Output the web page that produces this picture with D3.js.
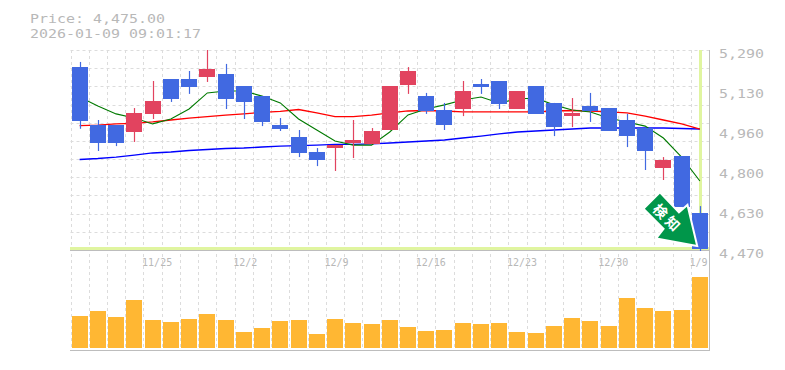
<!DOCTYPE html>
<html><head><meta charset="utf-8">
<script src="https://d3js.org/d3.v7.min.js"></script>
<style>html,body{margin:0;padding:0;background:#fff}svg{display:block}text{font-family:"DejaVu Sans Mono",monospace}</style>
</head><body><div id="chart"></div>
<script>
const dates=["11/18","11/19","11/20","11/21","11/25","11/26","11/27","11/28","12/1","12/2","12/3","12/4","12/5","12/8","12/9","12/10","12/11","12/12","12/15","12/16","12/17","12/18","12/19","12/22","12/23","12/24","12/25","12/26","12/29","12/30","1/5","1/6","1/7","1/8","1/9"];
const tickDates=["11/25","12/2","12/9","12/16","12/23","12/30","1/9"];
const priceTicks=[5290,5130,4960,4800,4630,4470];
const opens=[5220,4982,4982,4954,5028,5171,5171,5179,5192,5142,5101,4982,4933,4872,4888,4907,4905,4962,5146,5101,5044,5048,5151,5163,5048,5142,5073,5019,5060,5052,5003,4970,4806,4855,4622];
const closes=[5000,4909,4909,5032,5081,5089,5138,5212,5089,5077,4995,4966,4868,4839,4900,4921,4958,5142,5204,5040,4982,5122,5138,5069,5122,5028,4974,5032,5040,4958,4937,4876,4839,4646,4475];
const highs=[5241,5003,4982,5052,5163,5171,5204,5290,5233,5142,5101,5011,4962,4888,4900,5003,4970,5142,5220,5114,5073,5163,5171,5163,5122,5142,5073,5093,5114,5052,5028,4970,4851,4855,4650];
const lows=[4967,4876,4896,4913,5007,5077,5110,5159,5048,5007,4978,4958,4851,4814,4794,4847,4905,4962,5110,5028,4962,5019,5110,5048,5048,5028,4937,4974,4995,4958,4892,4798,4757,4646,4466];
const maShort=[5097,5060,5028,5011,4987,5007,5048,5114,5122,5122,5101,5073,5007,4962,4917,4900,4900,4954,5024,5048,5065,5085,5097,5073,5089,5093,5065,5044,5036,5011,4995,4978,4929,4851,4753];
const maMid=[4980,4982,4987,4989,4995,5003,5011,5017,5023,5028,5034,5038,5046,5032,5017,5017,5023,5032,5040,5042,5040,5036,5036,5036,5036,5036,5040,5042,5040,5036,5032,5019,5003,4987,4966];
const maLong=[4841,4845,4851,4859,4868,4872,4878,4882,4886,4888,4892,4896,4898,4900,4903,4903,4905,4909,4913,4917,4921,4929,4937,4946,4954,4958,4962,4966,4970,4970,4970,4970,4970,4968,4966];
const volumes=[32,37,31,48,28,26,29,34,28,16,20,27,28,14,29,25,24,28,21,17,18,25,24,25,16,15,22,30,27,22,50,40,37,38,71];
const lastPrice="Price: 4,475.00";
const stamp="2026-01-09 09:01:17";
const signal=["検","知"];

const W=785,H=370;
const svg=d3.select("#chart").append("svg").attr("width",W).attr("height",H);
const x=d3.scaleBand().domain(dates).range([70.5,709]);
const cx=d=>x(d)+x.bandwidth()/2;
const px=d=>Math.round(cx(d));
const y=d3.scaleLinear().domain([4470,5290]).range([250,50]);
const v=d3.scaleLinear().domain([0,100]).range([348,248]);
const grid="#dcdcdc",axis="#bdbdbd",txt="#b8b8b8",blue="#4169e1",red="#e2435f";

const g=svg.append("g");
const wide=(sel)=>sel.attr("font-size",12.8).attr("fill",txt)
  .attr("lengthAdjust","spacingAndGlyphs").attr("textLength",function(){return this.textContent.length*9;});

const hLevels=d3.range(0,11).map(i=>5290-i*820/11);
g.selectAll(".hg").data(hLevels).join("line")
 .attr("x1",70.5).attr("x2",709)
 .attr("y1",d=>Math.round(y(d))+.5).attr("y2",d=>Math.round(y(d))+.5)
 .attr("stroke",grid).attr("stroke-dasharray","3 3");
g.selectAll(".vg").data(dates).join("line")
 .attr("x1",d=>Math.round(x(d))+.5).attr("x2",d=>Math.round(x(d))+.5)
 .attr("y1",50).attr("y2",350)
 .attr("stroke",grid).attr("stroke-dasharray","3 3");
const hl="#e0f5a0";
const lastY=Math.round(y(4475))-.5;
g.append("line").attr("x1",px("1/9")+.5).attr("x2",px("1/9")+.5).attr("y1",50).attr("y2",lastY).attr("stroke",hl).attr("stroke-width",3);
g.append("line").attr("x1",70).attr("x2",709).attr("y1",lastY).attr("y2",lastY).attr("stroke",hl).attr("stroke-width",3);
g.append("line").attr("x1",70).attr("x2",710).attr("y1",250.5).attr("y2",250.5).attr("stroke",axis);
g.append("line").attr("x1",70).attr("x2",710).attr("y1",350.5).attr("y2",350.5).attr("stroke",axis);
g.append("line").attr("x1",709.5).attr("x2",709.5).attr("y1",50).attr("y2",351).attr("stroke",axis);
const line=d3.line().x((d,i)=>cx(dates[i])).y(d=>y(d));
[[maLong,"#0000ff",1.4],[maMid,"#ff0000",1.3],[maShort,"#007a00",1.1]].forEach(([s,c,w])=>{
 g.append("path").attr("d",line(s)).attr("fill","none").attr("stroke",c).attr("stroke-width",w);
});
const idx=d3.range(dates.length);
const col=i=>closes[i]>=opens[i]?red:blue;
g.selectAll(".wick").data(idx).join("line")
 .attr("x1",i=>px(dates[i])+.5).attr("x2",i=>px(dates[i])+.5)
 .attr("y1",i=>y(highs[i])).attr("y2",i=>y(lows[i])).attr("stroke",col).attr("stroke-width",1.2);
g.selectAll(".body").data(idx).join("rect")
 .attr("x",i=>px(dates[i])-8).attr("width",16)
 .attr("y",i=>y(Math.max(opens[i],closes[i])))
 .attr("height",i=>Math.abs(y(opens[i])-y(closes[i])))
 .attr("fill",col).attr("shape-rendering","crispEdges");
g.selectAll(".vol").data(idx).join("rect")
 .attr("x",i=>px(dates[i])-8).attr("width",16)
 .attr("y",i=>v(volumes[i])).attr("height",i=>v(0)-v(volumes[i])).attr("fill","#ffb733");
g.selectAll(".yl").data(priceTicks).join("text")
 .attr("x",719).attr("y",(d,i)=>58+i*40)
 .text(d3.format(",")).call(wide);
g.selectAll(".xl").data(tickDates).join("text")
 .attr("x",d=>cx(d)-10.5).attr("y",266).attr("font-size",10).attr("fill",txt).text(d=>d);
g.append("text").attr("x",30).attr("y",23).text(lastPrice).call(wide);
g.append("text").attr("x",30).attr("y",38).text(stamp).call(wide);
const tip=[cx("1/9")-4,y(4475)-4];
const shape=[[0,0],[-38,-7],[-31,-16],[-51,-36],[-36,-51],[-17,-31],[-9,-38]];
g.append("path").attr("d",d3.line()(shape.map(p=>[tip[0]+p[0],tip[1]+p[1]]))+"Z")
 .attr("fill","#00964a").attr("stroke","#fff").attr("stroke-width",4).attr("paint-order","stroke");
signal.forEach((c,i)=>{
 const tx=tip[0]-35+i*12.3,ty=tip[1]-34+i*12.3;
 g.append("text").attr("transform",`translate(${tx},${ty}) rotate(45)`)
  .attr("text-anchor","middle").attr("dominant-baseline","central")
  .attr("font-size",14).attr("font-weight","bold").attr("fill","#fff")
  .style("font-family","'Noto Sans CJK JP'").text(c);
});
</script></body></html>
